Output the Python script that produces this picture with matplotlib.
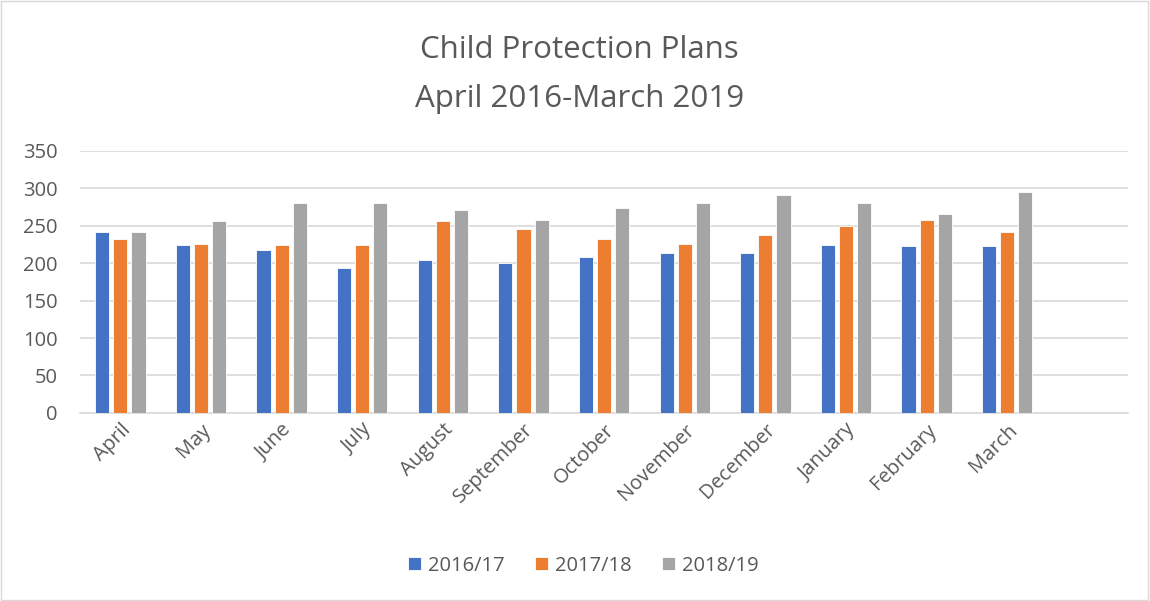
import numpy as np
import matplotlib
matplotlib.use("Agg")
import matplotlib.pyplot as plt
from matplotlib.patches import Rectangle

# --- data ---
months = ["April", "May", "June", "July", "August", "September", "October",
          "November", "December", "January", "February", "March"]
y2016 = [242, 224, 218, 193, 204, 200, 208, 213, 213, 224, 223, 223]
y2017 = [232, 226, 224, 224, 256, 246, 232, 225, 238, 250, 257, 241]
y2018 = [242, 256, 280, 281, 271, 258, 274, 280, 291, 281, 266, 295]
series_names = ["2016/17", "2017/18", "2018/19"]
colors = ["#4472C4", "#ED7D31", "#A5A5A5"]

plt.rcParams["font.family"] = ["Open Sans", "DejaVu Sans"]
txt = "#595959"

fig = plt.figure(figsize=(11.5, 6.01), dpi=100)
fig.patches.append(Rectangle((0.001, 0.001), 0.997, 0.997, transform=fig.transFigure,
                             fill=False, edgecolor="#d9d9d9", linewidth=1))

ax = fig.add_axes([0.0696, 0.313, 0.9114, 0.436])

x = np.arange(len(months))
w = 0.175
step = 0.225
for i, (vals, name, c) in enumerate(zip([y2016, y2017, y2018], series_names, colors)):
    ax.bar(x + (i - 1) * step, vals, width=w, color=c, label=name,
           edgecolor="white", linewidth=0.6, zorder=3)

# empty 13th category slot as in the original
ax.set_xlim(-0.5, len(months) + 0.5)
ax.set_ylim(0, 350)
ax.set_yticks(range(0, 351, 50))
ax.yaxis.grid(True, color="#d9d9d9", linewidth=1.2, zorder=0)
ax.set_xticks(x)
ax.set_xticklabels(months, rotation=45, ha="right", rotation_mode="anchor")
ax.tick_params(axis="both", length=0, labelsize=14.5, colors=txt)
ax.tick_params(axis="x", pad=5)
ax.tick_params(axis="y", pad=16)
for s in ["left", "right", "top"]:
    ax.spines[s].set_visible(False)
ax.spines["bottom"].set_color("#d9d9d9")
ax.spines["bottom"].set_linewidth(1.2)

fig.text(0.504, 0.916, "Child Protection Plans", ha="center", va="center",
         fontsize=22.5, color=txt)
fig.text(0.504, 0.836, "April 2016-March 2019", ha="center", va="center",
         fontsize=22.5, color=txt)

leg = fig.legend(loc="center", bbox_to_anchor=(0.507, 0.059), ncol=3, frameon=False,
                 fontsize=14.5, handlelength=0.65, handleheight=0.65,
                 handletextpad=0.35, columnspacing=1.5)
for t in leg.get_texts():
    t.set_color(txt)

fig.savefig("out.png", dpi=100)
